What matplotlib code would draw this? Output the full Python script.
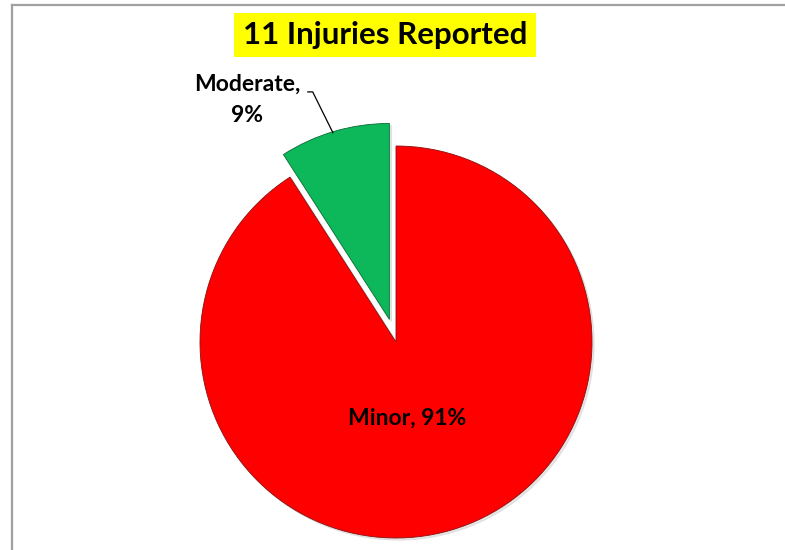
import matplotlib
matplotlib.use("Agg")
import matplotlib.pyplot as plt
from matplotlib.lines import Line2D

# data
categories = ["Minor", "Moderate"]
counts = [10, 1]
percents = ["91%", "9%"]
colors = ["#FF0000", "#0DB85A"]
title = "11 Injuries Reported"

plt.rcParams['font.family'] = ['Lato', 'DejaVu Sans']

fig = plt.figure(figsize=(7.85, 5.5), dpi=100)
ax = fig.add_axes([0, 0, 1, 1])

wedges, _ = ax.pie(counts, colors=colors, startangle=90, counterclock=False,
                   explode=[0, 0.12], radius=1,
                   wedgeprops=dict(edgecolor="#8a1010", linewidth=0.6),
                   shadow=dict(ox=0.008, oy=-0.008, color="#c0c0c0", alpha=0.4))
wedges[1].set_edgecolor("#0a6b34")
for w in ax.patches:
    w.set_clip_on(False)

# pixel layout: centre at (396, 342), radius 196 px
ax.set_xlim(-396 / 196, (785 - 396) / 196)
ax.set_ylim(-208 / 196, (550 - 208) / 196)
ax.set_aspect('auto')
ax.axis('off')

ax.text(0.056, -0.39, f"{categories[0]}, {percents[0]}", ha="center", va="center",
        fontsize=16.5, fontweight="bold", color="black")
ax.text(-0.76, 1.235, f"{categories[1]},\n{percents[1]}", ha="center", va="center",
        fontsize=16.5, fontweight="bold", color="black", linespacing=1.6)
ax.plot([-0.45, -0.425, -0.322], [1.276, 1.276, 1.068], color="black", lw=0.9,
        clip_on=False)

fig.text(385 / 785, 1 - 35 / 550, title, ha="center", va="center", fontsize=22.5,
         fontweight="bold", color="black",
         bbox=dict(facecolor="#FFFF00", edgecolor="none", pad=6))

# chart area border (top and left visible)
fig.add_artist(Line2D([11.5 / 785, 1], [1 - 4.5 / 550, 1 - 4.5 / 550],
                      color="#a0a0a0", lw=1.6))
fig.add_artist(Line2D([11.5 / 785, 11.5 / 785], [0, 1 - 4.5 / 550],
                      color="#a0a0a0", lw=1.6))

fig.savefig("out.png", dpi=100)
